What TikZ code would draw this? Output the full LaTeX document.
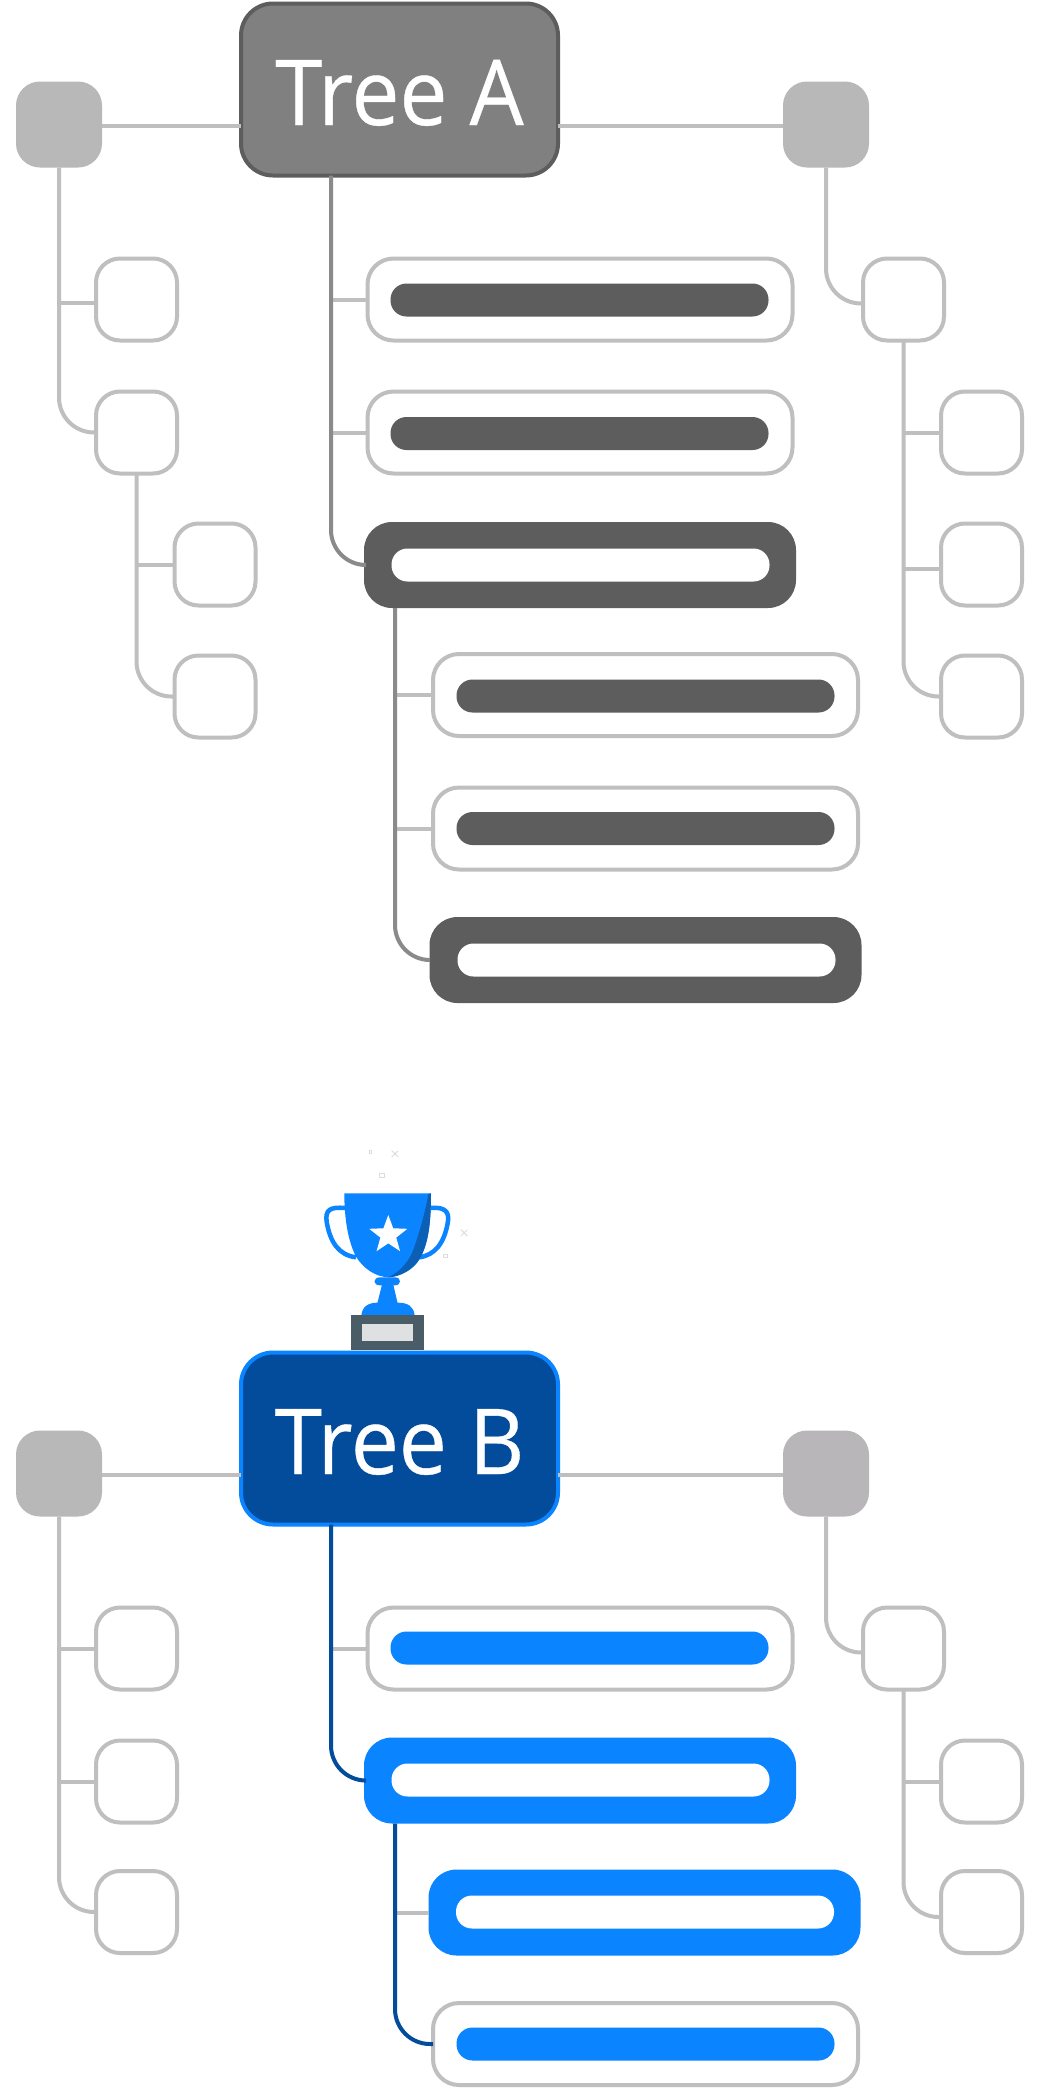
\documentclass[tikz,border=0pt]{standalone}
\usepackage{fontspec}
\newfontfamily\treefont[FakeStretch=0.94,FakeBold=0.4]{Open Sans}
\usetikzlibrary{shapes.geometric}
\definecolor{linegrey}{HTML}{BFBFBF}
\definecolor{sqgrey}{HTML}{B8B8B8}
\definecolor{sqgreyb}{HTML}{B8B6B8}
\definecolor{darkbar}{HTML}{5D5D5D}
\definecolor{trunkgrey}{HTML}{8A8A8A}
\definecolor{headgrey}{HTML}{808080}
\definecolor{brightblue}{HTML}{0A84FF}
\definecolor{navy}{HTML}{034C9C}
\definecolor{cupdark}{HTML}{0B5FB5}
\definecolor{plategrey}{HTML}{4A5C66}
\definecolor{plateinner}{HTML}{DFE0E1}
\definecolor{speck}{HTML}{DDDDDD}
\tikzset{
  base/.style={inner sep=0pt,outer sep=0pt},
  head/.style={base,line width=4pt,rounded corners=32pt,minimum width=317pt,minimum height=172pt,
    text=white,font=\treefont\fontsize{91}{91}\selectfont},
  square/.style={base,fill=sqgrey,rounded corners=24pt,minimum width=86pt,minimum height=86pt},
  leaf/.style={base,draw=linegrey,fill=white,line width=4pt,rounded corners=24pt,minimum width=81pt,minimum height=82pt},
  outline/.style={base,draw=linegrey,fill=white,line width=4pt,rounded corners=26pt,minimum width=425pt,minimum height=82pt},
  solid box/.style={base,rounded corners=28pt,minimum width=432pt,minimum height=86pt},
  bar/.style={base,rounded corners=16pt,minimum width=378pt,minimum height=33pt},
  thin line/.style={draw=linegrey,line width=4pt},
  curve/.style={rounded corners=35pt},
}
\newcommand{\headtext}[1]{\raisebox{-35.5pt}[0pt][0pt]{#1}}
\begin{document}
\begin{tikzpicture}[x=1pt,y=-1pt]
\useasboundingbox (0,0) rectangle (1041,2089);
\fill[white] (0,0) rectangle (1041,2089);

% ---------- Tree A ----------
\node[head,draw=darkbar,fill=headgrey] (A) at (399.5,89.5) {\headtext{Tree A}};
\node[square] (AL) at (59,124.5) {};
\node[square] (AR) at (826,124.5) {};
\node[leaf] (AL1) at (136.5,299.5) {};
\node[leaf] (AL2) at (136.5,432.5) {};
\node[leaf] (AL3) at (215,564.5) {};
\node[leaf] (AL4) at (215,696.5) {};
\node[leaf] (AR1) at (903.5,299.5) {};
\node[leaf] (AR2) at (981.5,432.5) {};
\node[leaf] (AR3) at (981.5,564.5) {};
\node[leaf] (AR4) at (981.5,696.5) {};
\node[outline] (AM1) at (580,299.5) {};
\node[bar,fill=darkbar] (AM1b) at (579.5,300) {};
\node[outline] (AM2) at (580,432.5) {};
\node[bar,fill=darkbar] (AM2b) at (579.5,433.5) {};
\node[solid box,fill=darkbar] (AM3) at (580,565) {};
\node[bar,fill=white] (AM3b) at (580.5,565) {};
\node[outline] (AS1) at (645.5,695) {};
\node[bar,fill=darkbar] (AS1b) at (645.5,696) {};
\node[outline] (AS2) at (645.5,828.5) {};
\node[bar,fill=darkbar] (AS2b) at (645.5,828.5) {};
\node[solid box,fill=darkbar] (AS3) at (645.5,960) {};
\node[bar,fill=white] (AS3b) at (646.5,960) {};

\draw[thin line] ([yshift=-36.5pt]A.east) -- ([yshift=-1.5pt]AR.west);
\draw[thin line] ([yshift=-36.5pt]A.west) -- ([yshift=-1.5pt]AL.east);
\draw[thin line] ([yshift=-3.5pt]AL1.west) -- ([yshift=-3.5pt]AL1.west -| AL.south);
\draw[thin line,curve] (AL.south) |- (AL2.west);
\draw[thin line] (AL3.west) -- (AL3.west -| AL2.south);
\draw[thin line,curve] (AL2.south) |- (AL4.west);
\draw[thin line,curve] (AR.south) |- ([yshift=-4pt]AR1.west);
\draw[thin line] (AR2.west) -- (AR2.west -| AR1.south);
\draw[thin line] ([yshift=-4pt]AR3.west) -- ([yshift=-4pt]AR3.west -| AR1.south);
\draw[thin line,curve] (AR1.south) |- (AR4.west);
\draw[thin line] (AM1.west) -- (AM1.west -| 331,0);
\draw[thin line] (AM2.west) -- (AM2.west -| 331,0);
\draw[thin line] (AS1.west) -- (AS1.west -| 395,0);
\draw[thin line] (AS2.west) -- (AS2.west -| 395,0);
\draw[draw=trunkgrey,line width=4pt,curve] ([xshift=-68.5pt]A.south) |- (AM3.west);
\draw[draw=trunkgrey,line width=4pt,curve] ([xshift=-185pt]AM3.south) |- (AS3.west);

% ---------- Trophy ----------
\begin{scope}[shift={(280,1120)},x=0.3333pt,y=-0.3333pt]
  \draw[brightblue,line width=4.5pt,fill=none] (195,264) .. controls (150,260) and (135,270) .. (140,305) .. controls (150,365) and (175,405) .. (228,412);
  \draw[brightblue,line width=4.5pt,fill=none] (452,264) .. controls (495,260) and (510,275) .. (503,310) .. controls (492,370) and (465,405) .. (418,412);
  \fill[brightblue] (193,220) -- (453,220) .. controls (453,310) and (445,370) .. (420,415) .. controls (400,450) and (360,470) .. (325,472) .. controls (285,470) and (250,445) .. (228,410) .. controls (205,365) and (193,300) .. (193,220) -- cycle;
  \fill[cupdark] (453,220) .. controls (453,310) and (445,370) .. (420,415) .. controls (400,450) and (360,470) .. (325,472) .. controls (360,455) and (390,425) .. (405,375) .. controls (420,330) and (435,280) .. (445,222) -- cycle;
  \fill[brightblue] (300,472) -- (345,472) .. controls (365,472) and (365,496) .. (345,496) -- (300,496) .. controls (278,496) and (278,472) .. (300,472) -- cycle;
  \fill[brightblue] (306,494) -- (340,494) -- (353,550) -- (292,550) -- cycle;
  \fill[brightblue] (244,587) .. controls (246,560) and (265,548) .. (292,548) -- (352,548) .. controls (385,548) and (402,560) .. (404,587) -- cycle;
  \fill[plategrey] (214,585) rectangle (431,690);
  \fill[plateinner] (246,611) rectangle (400,662);
  \draw[speck,line width=0.7pt] (268,91) rectangle (274,99);
  \draw[speck,line width=1pt] (335,92) -- (355,111) (355,92) -- (335,111);
  \draw[speck,line width=0.7pt] (299,161) rectangle (312,173);
  \draw[speck,line width=1pt] (543,329) -- (562,348) (562,329) -- (543,348);
  \draw[speck,line width=0.7pt] (490,403) rectangle (501,413);
\end{scope}
\node[base,star,star points=5,star point ratio=2.4,fill=white,minimum size=40pt] (Star) at (388.3,1235) {};

% ---------- Tree B ----------
\node[head,draw=brightblue,fill=navy] (B) at (399.5,1438.5) {\headtext{Tree B}};
\node[square] (BL) at (59,1473.5) {};
\node[square,fill=sqgreyb] (BR) at (826,1473.5) {};
\node[leaf] (BL1) at (136.5,1648.5) {};
\node[leaf] (BL2) at (136.5,1781.5) {};
\node[leaf] (BL3) at (136.5,1912) {};
\node[leaf] (BR1) at (903.5,1648.5) {};
\node[leaf] (BR2) at (981.5,1781.5) {};
\node[leaf] (BR3) at (981.5,1912) {};
\node[outline] (BM1) at (580,1648.5) {};
\node[bar,fill=brightblue] (BM1b) at (579.5,1648) {};
\node[solid box,fill=brightblue] (BM2) at (580,1780.5) {};
\node[bar,fill=white] (BM2b) at (580.5,1780) {};
\node[solid box,fill=brightblue] (BS1) at (644.5,1912.5) {};
\node[bar,fill=white] (BS1b) at (645,1912) {};
\node[outline] (BS2) at (645.5,2044) {};
\node[bar,fill=brightblue] (BS2b) at (645.5,2044) {};

\draw[thin line] ([yshift=-36.5pt]B.west) -- ([yshift=-1.5pt]BL.east);
\draw[thin line] ([yshift=-36.5pt]B.east) -- ([yshift=-1.5pt]BR.west);
\draw[thin line] (BL1.west) -- (BL1.west -| BL.south);
\draw[thin line] (BL2.west) -- (BL2.west -| BL.south);
\draw[thin line,curve] (BL.south) |- (BL3.west);
\draw[thin line,curve] (BR.south) |- ([yshift=-4pt]BR1.west);
\draw[thin line] (BR2.west) -- (BR2.west -| BR1.south);
\draw[thin line,curve] (BR1.south) |- ([yshift=-5pt]BR3.west);
\draw[thin line] (BM1.west) -- (BM1.west -| 331,0);
\draw[thin line] (BS1.west) -- (BS1.west -| 395,0);
\draw[draw=navy,line width=4pt,curve] ([xshift=-68.5pt]B.south) |- (BM2.west);
\draw[draw=navy,line width=4pt,curve] ([xshift=-185pt]BM2.south) |- (BS2.west);
\end{tikzpicture}
\end{document}
